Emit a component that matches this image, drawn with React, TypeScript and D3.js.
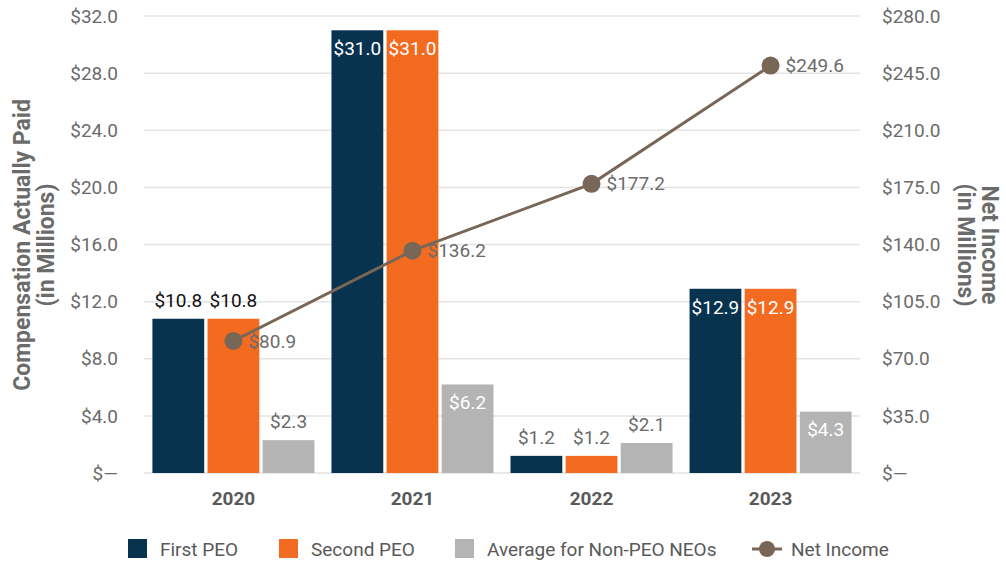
import * as d3 from 'd3';

const years = ['2020', '2021', '2022', '2023'];
const firstPeo = [10.8, 31.0, 1.2, 12.9];
const secondPeo = [10.8, 31.0, 1.2, 12.9];
const nonPeoAvg = [2.3, 6.2, 2.1, 4.3];
const netIncome = [80.9, 136.2, 177.2, 249.6];
const leftTicks = [0, 4, 8, 12, 16, 20, 24, 28, 32];
const rightTicks = [0, 35, 70, 105, 140, 175, 210, 245, 280];

const W = 1006;
const H = 564;
const plot = { left: 144, right: 860, top: 16, bottom: 473 };
const FONT = 'Roboto, "Noto Sans", sans-serif';
const FS = 19;

const series = [
  { name: 'First PEO', values: firstPeo, color: '#07334f', inside: [false, true, false, true] },
  { name: 'Second PEO', values: secondPeo, color: '#f26b21', inside: [false, true, false, true] },
  { name: 'Average for Non-PEO NEOs', values: nonPeoAvg, color: '#b4b4b4', inside: [false, true, false, true] },
];

const fmt = (v: number) => (v === 0 ? '$—' : `$${v.toFixed(1)}`);

export default function App() {
  const x = d3.scaleBand<string>().domain(years).range([plot.left, plot.right]).paddingInner(0.095).paddingOuter(0.047);
  const xs = d3.scaleBand<number>().domain([0, 1, 2]).range([0, x.bandwidth()]).paddingInner(0.06);
  const yL = d3.scaleLinear().domain([0, 32]).range([plot.bottom, plot.top]);
  const yR = d3.scaleLinear().domain([0, 280]).range([plot.bottom, plot.top]);
  const line = d3.line<number>()
    .x((_, i) => (x(years[i]) as number) + x.bandwidth() / 2)
    .y((d) => yR(d));

  // labels for the 2022 small bars are grey, 2020 peo labels dark
  const outColor = (si: number, yi: number) => (yi === 2 || si === 2 ? '#6b6b6b' : '#111111');

  return (
    <svg width={W} height={H} style={{ position: 'absolute', left: 0, top: 0, background: '#fff' }} fontFamily={FONT}>
      {leftTicks.map((t) => (
        <g key={t}>
          <line x1={plot.left} x2={plot.right} y1={yL(t)} y2={yL(t)} stroke="#e3e3e3" strokeWidth={1.5} />
          <text x={118} y={yL(t)} dy="0.35em" textAnchor="end" fontSize={FS} fill="#6b6b6b">{fmt(t)}</text>
        </g>
      ))}
      {rightTicks.map((t) => (
        <text key={t} x={882} y={yR(t)} dy="0.35em" textAnchor="start" fontSize={FS} fill="#6b6b6b">{fmt(t)}</text>
      ))}

      {years.map((yr, yi) => (
        <g key={yr}>
          {series.map((s, si) => {
            const v = s.values[yi];
            const bx = (x(yr) as number) + (xs(si) as number);
            const bw = xs.bandwidth();
            const top = yL(v);
            const cx = bx + bw / 2;
            return (
              <g key={s.name}>
                <rect x={bx} y={top} width={bw} height={plot.bottom - top} fill={s.color} />
                {s.inside[yi] ? (
                  <text x={cx} y={top + 23} dy="0.1em" textAnchor="middle" fontSize={FS} fill="#ffffff">{fmt(v)}</text>
                ) : (
                  <text x={cx} y={top - 12} textAnchor="middle" fontSize={FS} fill={outColor(si, yi)}>{fmt(v)}</text>
                )}
              </g>
            );
          })}
          <text x={(x(yr) as number) + x.bandwidth() / 2} y={505} textAnchor="middle" fontSize={FS} fontWeight="bold" fill="#595959">{yr}</text>
        </g>
      ))}

      <path d={line(netIncome) as string} fill="none" stroke="#786757" strokeWidth={3} />
      {netIncome.map((v, i) => {
        const cx = (x(years[i]) as number) + x.bandwidth() / 2;
        return (
          <g key={i}>
            <circle cx={cx} cy={yR(v)} r={9} fill="#786757" />
            <text x={cx + 15} y={yR(v)} dy="0.35em" fontSize={FS} fill="#6b6b6b">{fmt(v)}</text>
          </g>
        );
      })}

      <text transform="translate(30,245) rotate(-90)" textAnchor="middle" fontSize={23} fontWeight="bold" fill="#6b6b6b">Compensation Actually Paid</text>
      <text transform="translate(54,245) rotate(-90)" textAnchor="middle" fontSize={23} fontWeight="bold" fill="#6b6b6b">(in Millions)</text>
      <text transform="translate(982,245) rotate(90)" textAnchor="middle" fontSize={23} fontWeight="bold" fill="#6b6b6b">Net Income</text>
      <text transform="translate(958,245) rotate(90)" textAnchor="middle" fontSize={23} fontWeight="bold" fill="#6b6b6b">(in Millions)</text>

      <g fontSize={FS} fill="#595959">
        <rect x={128} y={539} width={19} height={19} fill={series[0].color} />
        <text x={160} y={549} dy="0.35em">First PEO</text>
        <rect x={279} y={539} width={19} height={19} fill={series[1].color} />
        <text x={311} y={549} dy="0.35em">Second PEO</text>
        <rect x={455} y={539} width={19} height={19} fill={series[2].color} />
        <text x={487} y={549} dy="0.35em">Average for Non-PEO NEOs</text>
        <line x1={752} x2={782} y1={549} y2={549} stroke="#786757" strokeWidth={3} />
        <circle cx={767} cy={549} r={8} fill="#786757" />
        <text x={791} y={549} dy="0.35em">Net Income</text>
      </g>
    </svg>
  );
}
